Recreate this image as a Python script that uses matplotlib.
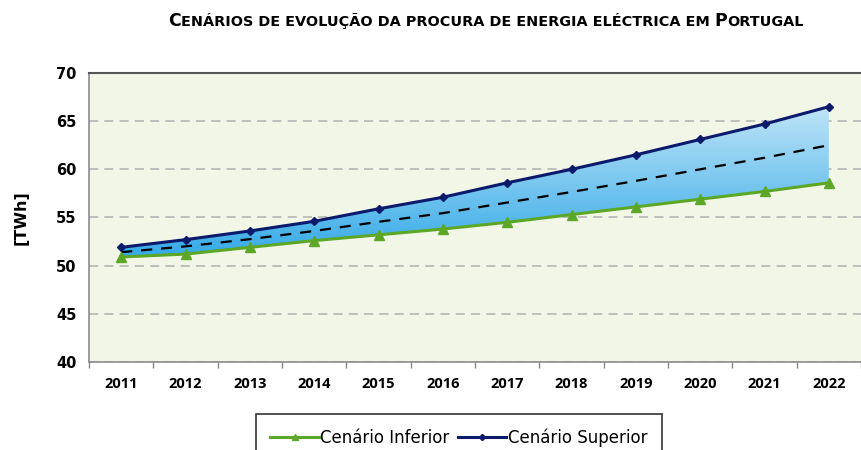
import matplotlib.pyplot as plt
import numpy as np
from matplotlib.colors import LinearSegmentedColormap

# data
years = ['2011', '2012', '2013', '2014', '2015', '2016',
         '2017', '2018', '2019', '2020', '2021', '2022']
superior = [51.9, 52.7, 53.6, 54.6, 55.9, 57.1, 58.6, 60.0, 61.5, 63.1, 64.7, 66.5]
inferior = [50.9, 51.2, 51.9, 52.6, 53.2, 53.8, 54.5, 55.3, 56.1, 56.9, 57.7, 58.6]
middle = [51.4, 52.0, 52.75, 53.6, 54.55, 55.45, 56.55, 57.65, 58.8, 60.0, 61.2, 62.5]

green = '#5ca826'
navy = '#0b1a6b'

fig = plt.figure(figsize=(8.61, 4.5), dpi=100)
ax = fig.add_axes([0.1034, 0.1956, 0.8966, 0.6422])
ax.set_facecolor('#f1f6e7')

x = np.arange(len(years))

# gradient fill between the two scenarios
poly = ax.fill_between(x, inferior, superior, color='none', zorder=2)
cmap = LinearSegmentedColormap.from_list('fill', ['#35aae8', '#bfe4f7'])
grad = np.linspace(0, 1, 256).reshape(-1, 1)
img = ax.imshow(grad, cmap=cmap, origin='lower', aspect='auto',
                extent=(x[0], x[-1], min(inferior), max(superior)), zorder=2)
img.set_clip_path(poly.get_paths()[0], transform=ax.transData)

ax.plot(x, middle, color='black', lw=1.6, dashes=(5, 4), zorder=3)
ax.plot(x, inferior, color=green, lw=2.2, marker='^', ms=6.5, label='Cenário Inferior', zorder=4)
ax.plot(x, superior, color=navy, lw=2.2, marker='D', ms=4.5, label='Cenário Superior', zorder=4)

ax.set_xlim(-0.5, 11.5)
ax.set_ylim(40, 70)
ax.set_yticks(range(40, 71, 5))
ax.yaxis.grid(True, color='#b0b0b0', linestyle=(0, (6, 4)), lw=1.1)
ax.set_axisbelow(True)

ax.set_xticks(x)
ax.set_xticklabels(years, fontsize=10.5, fontweight='bold', family='Open Sans')
ax.set_xticks(np.arange(-0.5, 12, 1), minor=True)
ax.tick_params(axis='x', which='major', length=0, pad=11)
ax.tick_params(axis='x', which='minor', length=4, color='#888888', width=1)
ax.tick_params(axis='y', length=0, pad=9)
for lab in ax.get_yticklabels():
    lab.set_fontsize(10.5)
    lab.set_fontweight('bold')
    lab.set_family('DejaVu Sans')

ax.set_ylabel('[TWh]', fontsize=11.5, fontweight='bold', labelpad=20)

for side in ['left', 'bottom']:
    ax.spines[side].set_color('#8c8c8c')
    ax.spines[side].set_linewidth(1.2)
ax.spines['top'].set_color('#555555')
ax.spines['top'].set_linewidth(1.5)
ax.spines['right'].set_visible(False)

leg = fig.legend(loc='upper center', bbox_to_anchor=(459 / 861, 1 - 414 / 450),
                 ncol=2, frameon=True, fancybox=False, markerscale=0.7,
                 prop={'size': 12}, handlelength=2.9,
                 handletextpad=0.1, columnspacing=0.5, borderpad=0.85,
                 borderaxespad=0)
leg.get_frame().set_edgecolor('black')
leg.get_frame().set_linewidth(1.2)

# title in small caps style
parts = [('C', 12.5), ('ENÁRIOS DE EVOLUÇÃO DA PROCURA DE ENERGIA ELÉCTRICA EM ', 10.4),
         ('P', 12.5), ('ORTUGAL', 10.4)]
fig.text(168 / 861, 1 - 26 / 450, parts[0][0], fontsize=parts[0][1],
         fontweight='bold', va='baseline')
for txt, size in parts[1:]:
    fig.text(0, 0, txt, fontsize=size, fontweight='bold', va='baseline')
fig.canvas.draw()
texts = fig.texts
r = fig.canvas.get_renderer()
for i in range(1, len(texts)):
    bb = texts[i - 1].get_window_extent(r)
    texts[i].set_position((bb.x1 / fig.bbox.width, texts[0].get_position()[1]))
    fig.canvas.draw()

fig.savefig('out.png', dpi=100)
